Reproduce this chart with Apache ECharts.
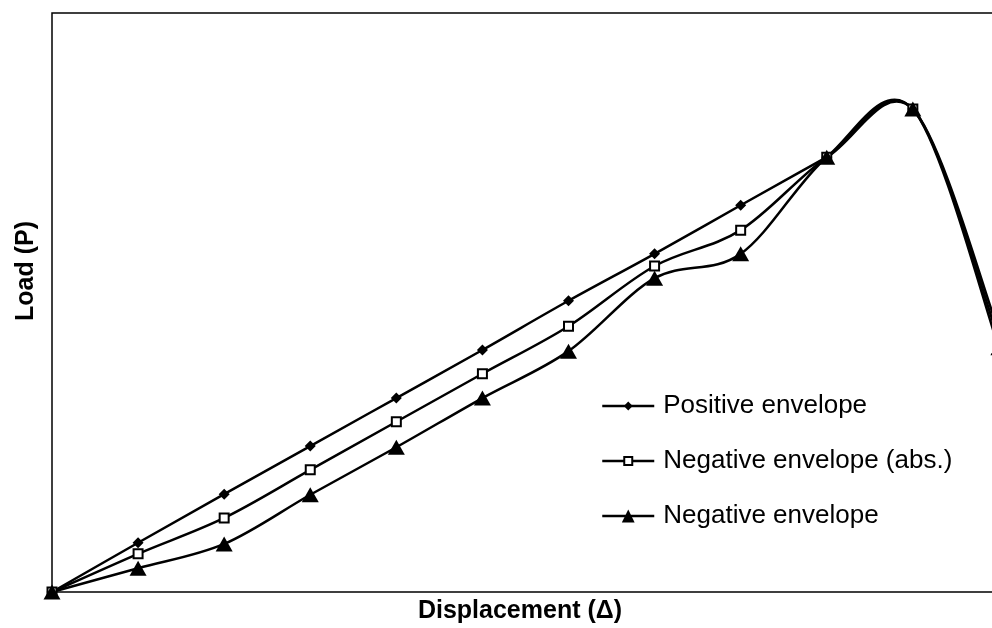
<!DOCTYPE html>
<html>
<head>
<meta charset="utf-8">
<script src="https://cdn.jsdelivr.net/npm/echarts@6/dist/echarts.min.js"></script>
<style>
html,body{margin:0;padding:0;background:#fff;}
#chart{width:992px;height:628px;}
</style>
</head>
<body>
<div id="chart"></div>
<script>
const displacement = [0, 1, 2, 3, 4, 5, 6, 7, 8, 9, 10, 11];
const positiveEnvelope = [0, 8.5, 16.9, 25.2, 33.5, 41.8, 50.3, 58.4, 66.8, 75.1, 83.4, 45.0];
const negativeEnvelopeAbs = [0, 6.6, 12.8, 21.1, 29.4, 37.7, 45.9, 56.3, 62.5, 75.1, 83.4, 43.6];
const negativeEnvelope = [0, 4.1, 8.3, 16.8, 25.0, 33.5, 41.6, 54.2, 58.4, 75.1, 83.4, 42.2];
const seriesNames = ['Positive envelope', 'Negative envelope (abs.)', 'Negative envelope'];
const xTitle = 'Displacement (\u0394)';
const yTitle = 'Load (P)';

const pairs = (ys) => displacement.map((x, i) => [x, ys[i]]);
const font = "'Liberation Sans', Arial, sans-serif";

const chart = echarts.init(document.getElementById('chart'), null, {renderer: 'canvas'});

// Spreadsheet-style smoothed curve (Catmull-Rom, 1/6 handles) through the data, via the axes' scales
function curveRenderer(values) {
  return function (params, api) {
    if (params.dataIndex !== 0) return null;
    const n = values.length;
    const P = (k) => {
      const kk = Math.max(0, Math.min(n - 1, k));
      return api.coord([displacement[kk], values[kk]]);
    };
    let d = '';
    const first = P(0);
    d += 'M' + first[0] + ' ' + first[1];
    for (let i = 0; i < n - 1; i++) {
      const p0 = P(i - 1), p1 = P(i), p2 = P(i + 1), p3 = P(i + 2);
      const c1 = [p1[0] + (p2[0] - p0[0]) / 6, p1[1] + (p2[1] - p0[1]) / 6];
      const c2 = [p2[0] - (p3[0] - p1[0]) / 6, p2[1] - (p3[1] - p1[1]) / 6];
      d += ' C' + c1[0] + ' ' + c1[1] + ' ' + c2[0] + ' ' + c2[1] + ' ' + p2[0] + ' ' + p2[1];
    }
    return {
      type: 'path',
      shape: {pathData: d},
      style: {stroke: '#000', fill: null, lineWidth: 2.5, lineJoin: 'round'}
    };
  };
}

const legendBase = {
  orient: 'vertical', left: 601, padding: 0, itemWidth: 52,
  textStyle: {fontFamily: font, fontSize: 26, color: '#000', padding: [0, 0, 0, 4]},
  lineStyle: {width: 2.5, color: '#000', opacity: 1},
  selectedMode: false
};

const hiddenLine = {color: '#000', width: 2.5, opacity: 0};

chart.setOption({
  animation: false,
  backgroundColor: '#fff',
  grid: {left: 52, top: 13, height: 579, width: 1033, show: true, outerBoundsMode: 'none',
         containLabel: false,
         borderColor: '#000', borderWidth: 1.5, backgroundColor: 'transparent'},
  xAxis: {type: 'value', min: 0, max: 12, axisLine: {show: false}, axisTick: {show: false},
          axisLabel: {show: false}, splitLine: {show: false}},
  yAxis: {type: 'value', min: 0, max: 100, axisLine: {show: false}, axisTick: {show: false},
          axisLabel: {show: false}, splitLine: {show: false}},
  legend: [
    Object.assign({}, legendBase, {data: [seriesNames[0]], top: 406 - 13, itemHeight: 11}),
    Object.assign({}, legendBase, {data: [seriesNames[1]], top: 461 - 13, itemHeight: 10}),
    Object.assign({}, legendBase, {data: [seriesNames[2]], top: 516 - 13, itemHeight: 16})
  ],
  graphic: [
    {type: 'text', x: 26, y: 271, rotation: Math.PI / 2,
     style: {text: yTitle, font: 'bold 25px ' + font, fill: '#000', align: 'center', verticalAlign: 'middle'}},
    {type: 'text', x: 520, y: 611,
     style: {text: xTitle, font: 'bold 25px ' + font, fill: '#000', align: 'center', verticalAlign: 'middle'}}
  ],
  series: [
    {name: 'curve-pos', type: 'custom', data: pairs(positiveEnvelope), renderItem: curveRenderer(positiveEnvelope), z: 1, silent: true},
    {name: 'curve-negabs', type: 'custom', data: pairs(negativeEnvelopeAbs), renderItem: curveRenderer(negativeEnvelopeAbs), z: 1, silent: true},
    {name: 'curve-neg', type: 'custom', data: pairs(negativeEnvelope), renderItem: curveRenderer(negativeEnvelope), z: 1, silent: true},
    {name: seriesNames[0], type: 'line', data: pairs(positiveEnvelope),
     symbol: 'diamond', symbolSize: [11, 11], itemStyle: {color: '#000'}, lineStyle: hiddenLine, z: 2},
    {name: seriesNames[1], type: 'line', data: pairs(negativeEnvelopeAbs),
     symbol: 'rect', symbolSize: [9, 9], itemStyle: {color: '#fff', borderColor: '#000', borderWidth: 2},
     lineStyle: hiddenLine, z: 3},
    {name: seriesNames[2], type: 'line', data: pairs(negativeEnvelope),
     symbol: 'triangle', symbolSize: [17, 15], itemStyle: {color: '#000'}, lineStyle: hiddenLine, z: 4}
  ]
});
</script>
</body>
</html>
